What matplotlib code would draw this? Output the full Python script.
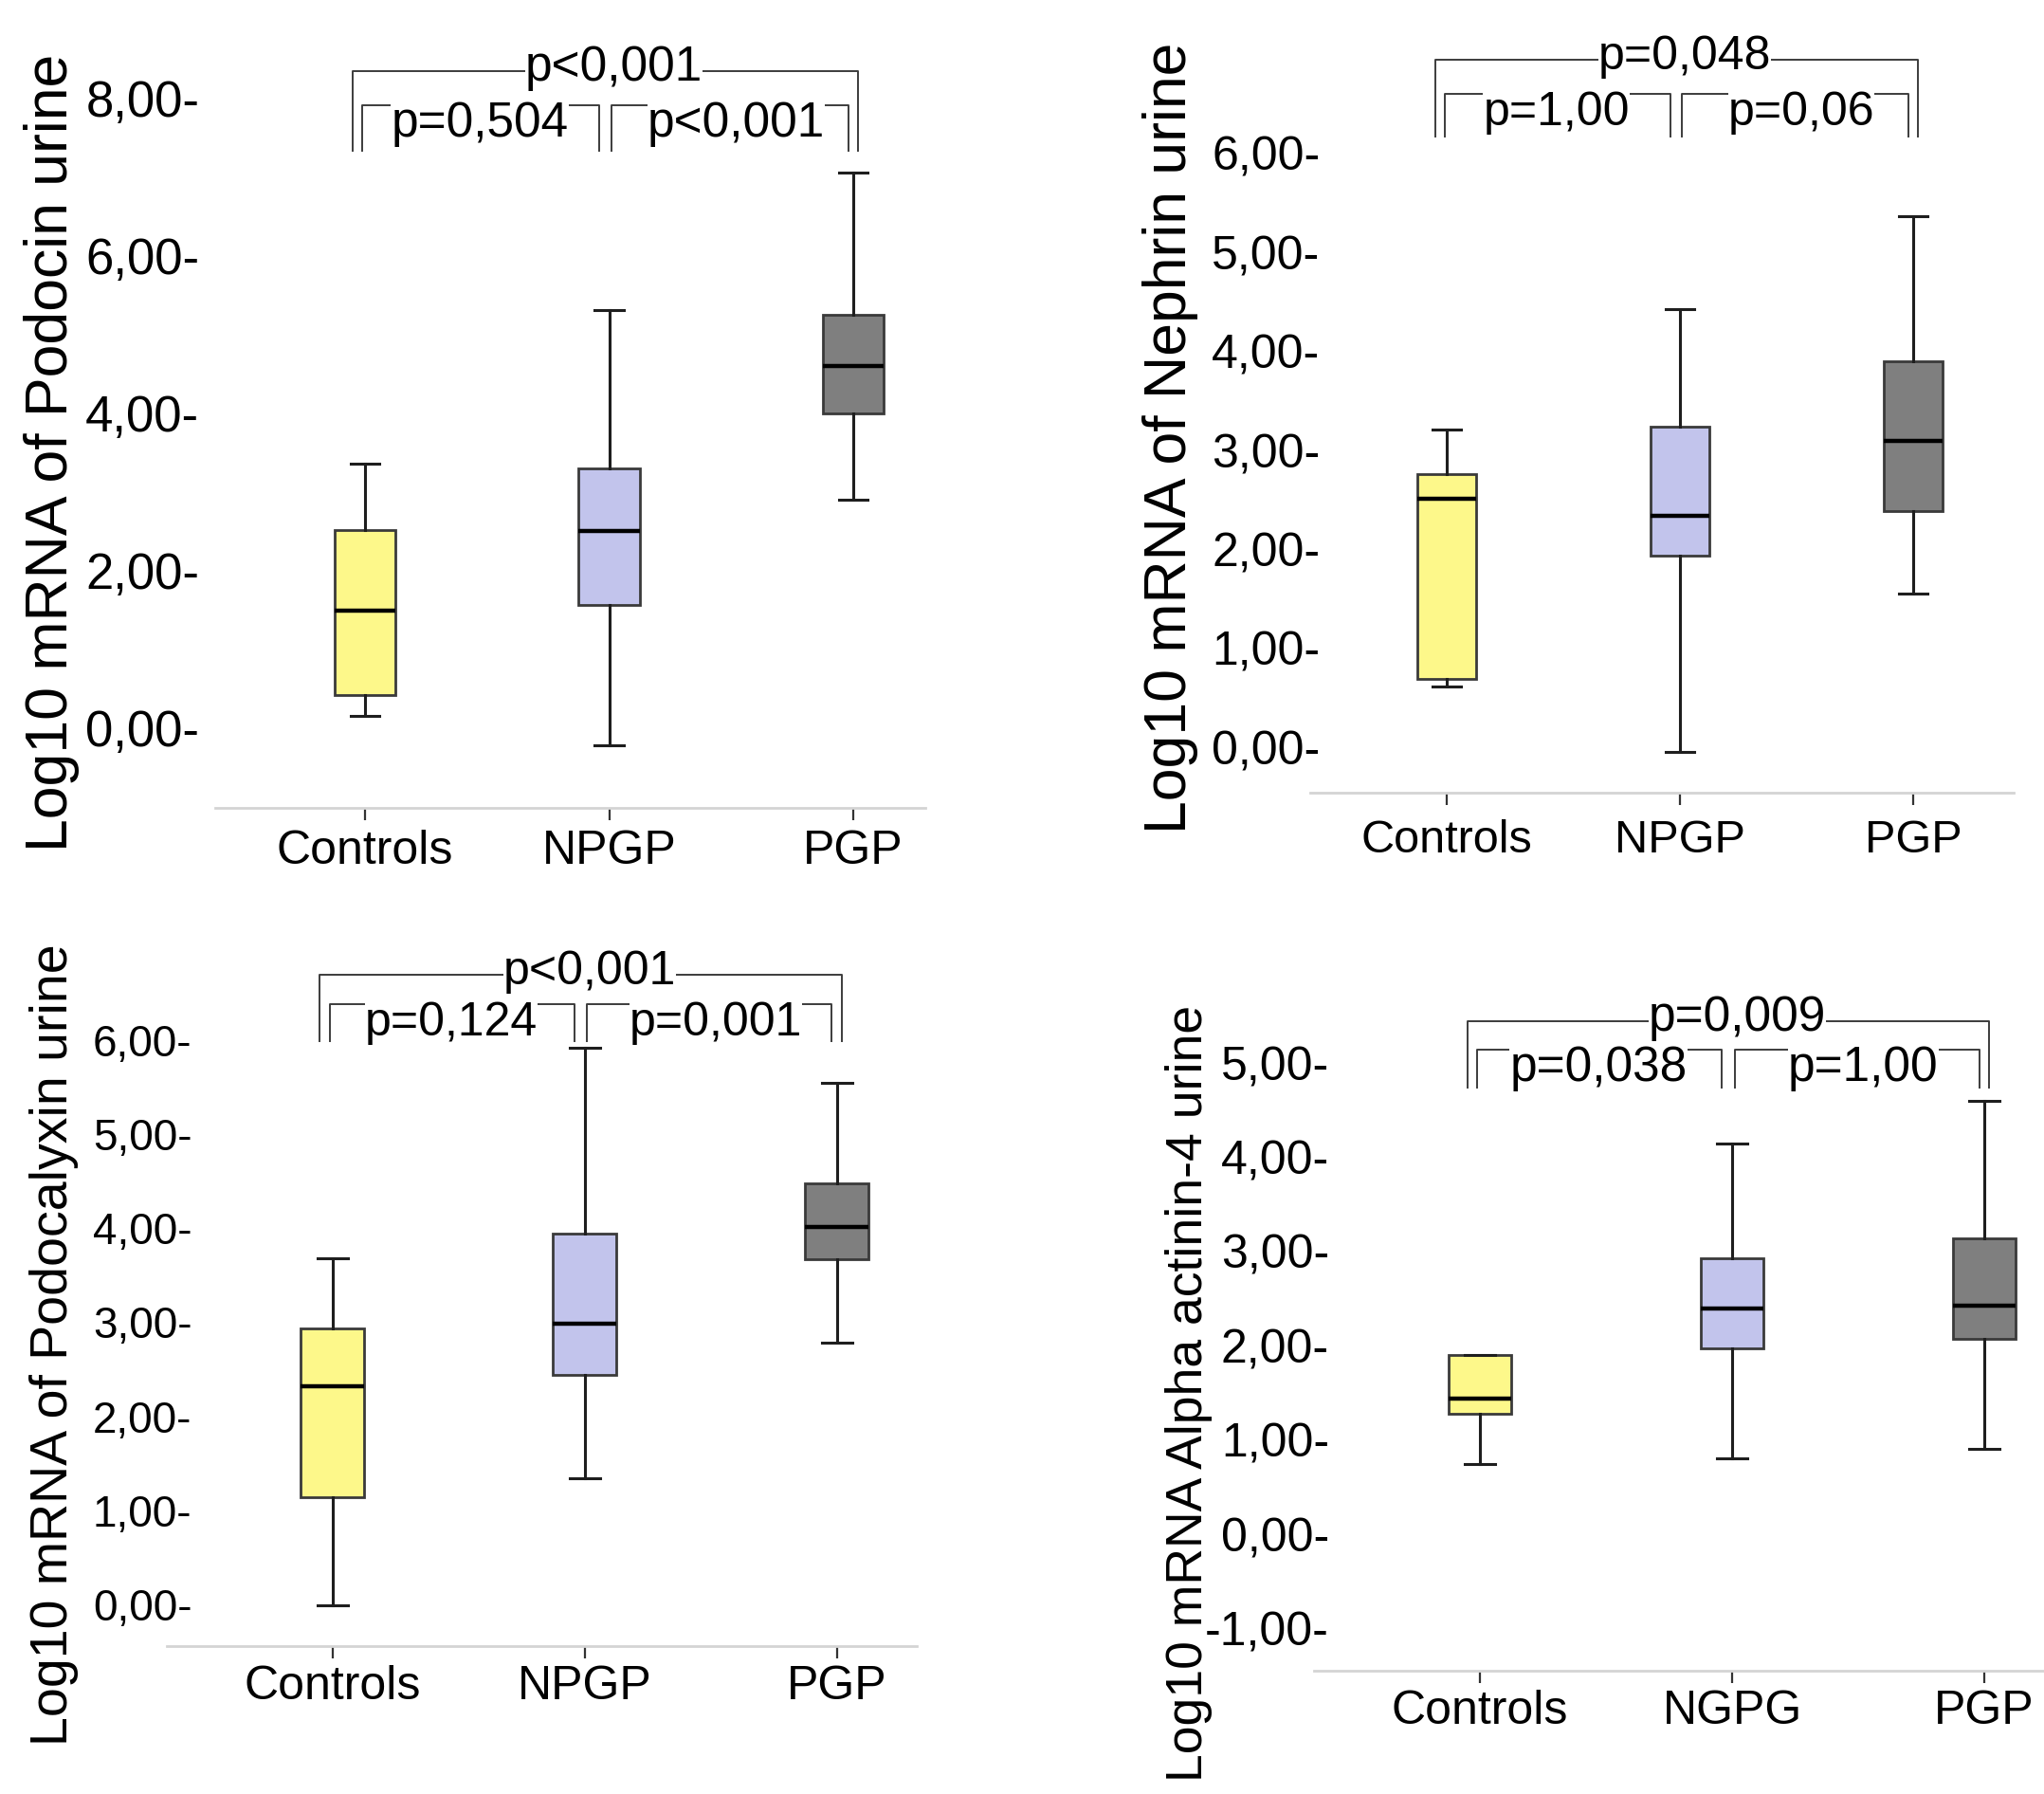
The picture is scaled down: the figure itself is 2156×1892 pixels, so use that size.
import matplotlib
matplotlib.use('Agg')
import matplotlib.pyplot as plt

W, H = 2156, 1892

groups = ['Controls', 'NPGP', 'PGP']
groups_actinin = ['Controls', 'NGPG', 'PGP']

# box statistics: lower whisker, q1, median, q3, upper whisker
podocin_lo = [0.15, -0.22, 2.90]
podocin_q1 = [0.42, 1.56, 3.99]
podocin_med = [1.49, 2.50, 4.59]
podocin_q3 = [2.51, 3.29, 5.24]
podocin_hi = [3.35, 5.30, 7.05]
podocin_ticks = [0, 2, 4, 6, 8]
podocin_p = ['p<0,001', 'p=0,504', 'p<0,001']

nephrin_lo = [0.62, -0.04, 1.56]
nephrin_q1 = [0.69, 1.94, 2.39]
nephrin_med = [2.51, 2.34, 3.10]
nephrin_q3 = [2.76, 3.24, 3.90]
nephrin_hi = [3.21, 4.43, 5.37]
nephrin_ticks = [0, 1, 2, 3, 4, 5, 6]
nephrin_p = ['p=0,048', 'p=1,00', 'p=0,06']

podocalyxin_lo = [-0.01, 1.34, 2.78]
podocalyxin_q1 = [1.14, 2.44, 3.67]
podocalyxin_med = [2.32, 2.98, 4.01]
podocalyxin_q3 = [2.93, 3.94, 4.48]
podocalyxin_hi = [3.68, 5.92, 5.54]
podocalyxin_ticks = [0, 1, 2, 3, 4, 5, 6]
podocalyxin_p = ['p<0,001', 'p=0,124', 'p=0,001']

actinin_lo = [0.74, 0.80, 0.91]
actinin_q1 = [1.28, 1.97, 2.07]
actinin_med = [1.44, 2.39, 2.42]
actinin_q3 = [1.90, 2.93, 3.14]
actinin_hi = [1.90, 4.14, 4.60]
actinin_ticks = [-1, 0, 1, 2, 3, 4, 5]
actinin_p = ['p=0,009', 'p=0,038', 'p=1,00']

box_colors = ['#fdf88a', '#c2c4ec', '#7f7f7f']

FONT = ['Liberation Sans', 'DejaVu Sans']

fig = plt.figure(figsize=(W / 100, H / 100), dpi=100)


def panel(lo, q1, med, q3, hi, cats, ticks, pvals, ylabel, lay):
    left, right, bottom, top = lay['box']
    cat0, step = lay['cat0'], lay['step']
    y0, ppu = lay['y0'], lay['ppu']
    ax = fig.add_axes([left / W, 1 - bottom / H, (right - left) / W, (bottom - top) / H])

    stats = [dict(label=c, whislo=a, q1=b, med=m, q3=d, whishi=e, fliers=[])
             for c, a, b, m, d, e in zip(cats, lo, q1, med, q3, hi)]
    bp = ax.bxp(stats, positions=range(len(cats)), widths=0.25, patch_artist=True,
                showfliers=False, capwidths=0.12,
                boxprops=dict(edgecolor='#3a3a3a', linewidth=2),
                medianprops=dict(color='black', linewidth=3.2),
                whiskerprops=dict(color='#1e1e1e', linewidth=2.2),
                capprops=dict(color='#1e1e1e', linewidth=2.2))
    for patch, col in zip(bp['boxes'], box_colors):
        patch.set_facecolor(col)

    ax.set_xlim((left - cat0) / step, (right - cat0) / step)
    ax.set_ylim((y0 - bottom) / ppu, (y0 - top) / ppu)

    for s in ['top', 'right', 'left']:
        ax.spines[s].set_visible(False)
    ax.spines['bottom'].set_color('#d4d4d4')
    ax.spines['bottom'].set_linewidth(2)

    ax.set_yticks(ticks)
    ax.set_yticklabels([f'{t:.2f}'.replace('.', ',') + '-' for t in ticks],
                       fontsize=lay['ytick_fs'], family=FONT)
    ax.tick_params(axis='y', length=0, pad=lay['ypad'])

    ax.set_xticks(range(len(cats)))
    ax.set_xticklabels(cats, fontsize=lay['xtick_fs'], family=FONT)
    ax.tick_params(axis='x', length=9.5, width=1.6, color='#333333', pad=lay['xpad'])

    # significance brackets
    yo, yi, yb = lay['brackets']
    lc = '#3c3c3c'
    ax.plot([-0.05, -0.05, 2.02, 2.02], [yb, yo, yo, yb], color=lc, lw=1.4, clip_on=False)
    ax.plot([-0.01, -0.01, 0.96, 0.96], [yb, yi, yi, yb], color=lc, lw=1.4, clip_on=False)
    ax.plot([1.01, 1.01, 1.98, 1.98], [yb, yi, yi, yb], color=lc, lw=1.4, clip_on=False)
    tkw = dict(ha='center', va='baseline', fontsize=lay['p_fs'], family=FONT,
               bbox=dict(fc='white', ec='none', pad=0), clip_on=False)
    ax.text(1.02, yo - 10 / ppu, pvals[0], zorder=6, **tkw)
    ax.text(0.47, yi - 33 / ppu, pvals[1], zorder=5, **tkw)
    ax.text(1.52, yi - 33 / ppu, pvals[2], zorder=5, **tkw)

    lx, ly = lay['ylabel_at']
    fig.text(lx / W, 1 - ly / H, ylabel, rotation=90, ha='center', va='top',
             fontsize=lay['ylabel_fs'], family=FONT)
    return ax


lay1 = dict(box=(227, 976, 852, 0), cat0=385, step=257.5, y0=767.4, ppu=83.0,
            ytick_fs=38, ypad=12, xtick_fs=36, xpad=7,
            brackets=(8.34, 7.91, 7.33), p_fs=37,
            ylabel_at=(55, 57), ylabel_fs=45)
lay2 = dict(box=(1382, 2124, 836, 0), cat0=1526, step=246, y0=788.4, ppu=104.4,
            ytick_fs=36, ypad=-7.5, xtick_fs=35, xpad=11,
            brackets=(6.95, 6.60, 6.17), p_fs=36,
            ylabel_at=(1235, 45), ylabel_fs=45)
lay3 = dict(box=(176, 967, 1736, 960), cat0=350.7, step=266, y0=1692, ppu=99.2,
            ytick_fs=33, ypad=-19, xtick_fs=36, xpad=5,
            brackets=(6.69, 6.38, 5.99), p_fs=36,
            ylabel_at=(57, 995), ylabel_fs=40)
lay4 = dict(box=(1386, 2156, 1762, 960), cat0=1561, step=266, y0=1618, ppu=99.4,
            ytick_fs=36, ypad=-11.5, xtick_fs=36, xpad=5,
            brackets=(5.44, 5.14, 4.74), p_fs=37,
            ylabel_at=(1254, 1060), ylabel_fs=38.5)

panel(podocin_lo, podocin_q1, podocin_med, podocin_q3, podocin_hi, groups,
      podocin_ticks, podocin_p, 'Log10 mRNA of Podocin urine', lay1)
panel(nephrin_lo, nephrin_q1, nephrin_med, nephrin_q3, nephrin_hi, groups,
      nephrin_ticks, nephrin_p, 'Log10 mRNA of Nephrin urine', lay2)
panel(podocalyxin_lo, podocalyxin_q1, podocalyxin_med, podocalyxin_q3, podocalyxin_hi, groups,
      podocalyxin_ticks, podocalyxin_p, 'Log10 mRNA of Podocalyxin urine', lay3)
panel(actinin_lo, actinin_q1, actinin_med, actinin_q3, actinin_hi, groups_actinin,
      actinin_ticks, actinin_p, 'Log10 mRNA Alpha actinin-4 urine', lay4)

fig.savefig('out.png', dpi=100, facecolor='white')
